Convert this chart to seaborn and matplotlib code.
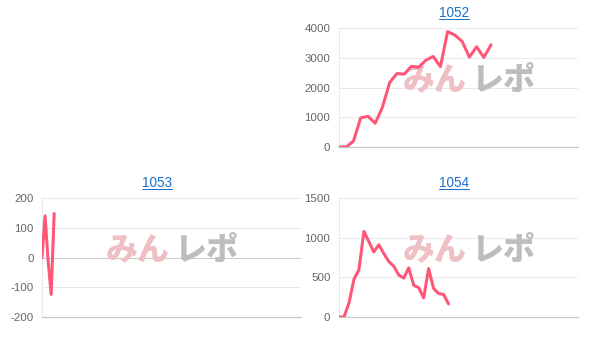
import matplotlib
matplotlib.use("Agg")
import numpy as np
import pandas as pd
import matplotlib.pyplot as plt
import seaborn as sns
from matplotlib.lines import Line2D

# ---------------- data ----------------
titles = ["1052", "1053", "1054"]
values_1052 = [0, 0, 200, 980, 1030, 800, 1340, 2170, 2470, 2450, 2710, 2680,
               2920, 3045, 2700, 3880, 3760, 3550, 3020, 3370, 3010, 3440]
values_1053 = [0, 140, -10, -124, 148]
values_1054 = [0, 0, 176, 475, 595, 1080, 950, 820, 910, 800, 700, 640, 530,
               490, 620, 400, 370, 240, 610, 360, 295, 285, 165]
yticks_1052 = [0, 1000, 2000, 3000, 4000]
yticks_1053 = [-200, -100, 0, 100, 200]
yticks_1054 = [0, 500, 1000, 1500]
slots_1052 = 33
slots_1053 = 85
slots_1054 = 48

# ---------------- style ----------------
W, H = 611, 345
PT = 72 / 100  # points per pixel at dpi 100
sns.set_theme(style="white")
plt.rcParams['font.family'] = ['Liberation Sans', 'DejaVu Sans']
plt.rcParams['axes.unicode_minus'] = False

LINE = "#ff5577"
GRID = "#e9e9e9"
AXIS = "#c9c9c9"
LABEL = "#666666"
LINK = "#1a6fd1"

fig = plt.figure(figsize=(W / 100, H / 100), dpi=100)
fig.patch.set_facecolor("white")


def px_axes(x0, y0, x1, y1):
    return fig.add_axes([x0 / W, 1 - y1 / H, (x1 - x0) / W, (y1 - y0) / H])


panels = [
    (titles[0], values_1052, yticks_1052, slots_1052, (339, 28, 578, 147), (454, 13), (469, 80)),
    (titles[1], values_1053, yticks_1053, slots_1053, (42, 198, 301, 317), (157, 183), (172, 250)),
    (titles[2], values_1054, yticks_1054, slots_1054, (339, 198, 578, 317), (454, 183), (469, 250)),
]

title_texts = []
for title, vals, yt, nslots, box, tpos, wpos in panels:
    ax = px_axes(*box)
    ax.set_facecolor("white")
    df = pd.DataFrame({"x": np.arange(len(vals)), "y": vals})
    sns.lineplot(data=df, x="x", y="y", ax=ax, color=LINE, linewidth=3 * PT,
                 zorder=3, legend=False)
    ax.set_xlim(0, nslots)
    ax.set_ylim(yt[0], yt[-1])
    ax.set_yticks(yt)
    ax.set_yticklabels([str(v) for v in yt])
    ax.set_xticks([])
    ax.set_xlabel("")
    ax.set_ylabel("")
    ax.grid(axis="y", color=GRID, linewidth=1 * PT, zorder=0)
    ax.set_axisbelow(True)
    if yt[0] < 0 < yt[-1]:
        ax.axhline(0, color=AXIS, linewidth=1 * PT, zorder=1)
    for s in ["top", "right"]:
        ax.spines[s].set_visible(False)
    ax.spines["left"].set_color(GRID)
    ax.spines["left"].set_linewidth(1 * PT)
    ax.spines["bottom"].set_color(AXIS)
    ax.spines["bottom"].set_linewidth(1.3 * PT)
    ax.tick_params(axis="y", length=6 * PT, width=1 * PT, color=GRID,
                   labelsize=11.5 * PT, labelcolor=LABEL, pad=2.5 * PT)

    # watermark (behind the line)
    wy = 1 - wpos[1] / H
    ax.text((wpos[0] - 34) / W, wy, "みん", transform=fig.transFigure,
            ha="center", va="center", fontsize=32 * PT, color="#eebfc3",
            family=["Noto Sans CJK JP"], fontweight="black", zorder=2)
    ax.text((wpos[0] + 34) / W, wy, "レポ", transform=fig.transFigure,
            ha="center", va="center", fontsize=32 * PT, color="#bdbdbd",
            family=["Noto Sans CJK JP"], fontweight="black", zorder=2)

    t = fig.text(tpos[0] / W, 1 - tpos[1] / H, title, ha="center", va="center",
                 fontsize=13.5 * PT, color=LINK)
    title_texts.append(t)

fig.canvas.draw()
renderer = fig.canvas.get_renderer()
for t in title_texts:
    bb = t.get_window_extent(renderer)
    yline = bb.y0 + 1
    fig.add_artist(Line2D([bb.x0 / W, bb.x1 / W], [yline / H, yline / H],
                          transform=fig.transFigure, color=LINK, linewidth=1 * PT))

fig.savefig("out.png", dpi=100, facecolor="white")
